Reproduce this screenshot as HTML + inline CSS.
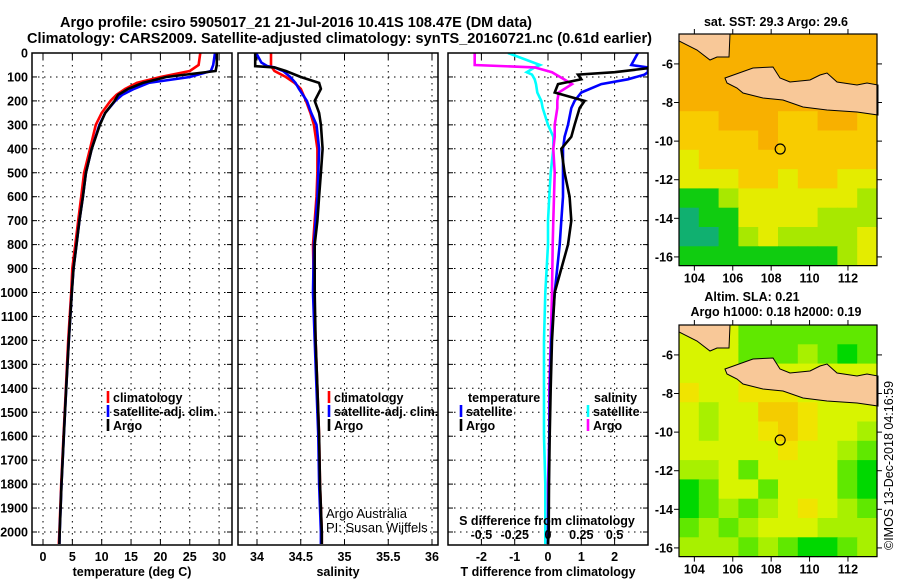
<!DOCTYPE html>
<html><head><meta charset="utf-8"><style>
html,body{margin:0;padding:0;background:#fff;}
svg{display:block;font-family:"Liberation Sans",sans-serif;}
.b{font-weight:bold;font-size:12.5px;}
</style></head><body>
<svg id="s" width="900" height="580" viewBox="0 0 900 580">
<text x="60" y="27" font-weight="bold" font-size="14.5" textLength="472">Argo profile: csiro 5905017_21 21-Jul-2016 10.41S 108.47E (DM data)</text>
<text x="27" y="43" font-weight="bold" font-size="14.5" textLength="625">Climatology: CARS2009. Satellite-adjusted climatology: synTS_20160721.nc (0.61d earlier)</text>
<g id="g"></g>
</svg>
<script>
// ---------- data ----------
const depthT = [0,50,75,100,125,150,175,200,250,300,400,500,600,700,800,900,1000,1200,1400,1600,1800,2000,2050];
const tempClim = [26.8,26.5,25,20,16,14,12.5,11.5,10,9,8,7,6.5,6,5.5,5,4.8,4.3,3.9,3.5,3.1,2.8,2.7];
const tempArgo = [29.6,29.6,29.4,21,17,14.5,12.8,12.2,10.6,9.7,8.3,7.3,6.8,6.2,5.7,5.2,4.9,4.4,3.95,3.55,3.15,2.85,2.8];
const tempSat  = [29.3,29.0,28.6,25,18,15.5,13.5,12.3,10.6,9.6,8.3,7.3,6.8,6.2,5.7,5.2,4.9,4.4,3.95,3.55,3.15,2.85,2.8];
const depthS = [0,40,55,60,75,100,125,150,200,250,300,400,500,600,700,800,1000,1200,1400,1600,1800,2000,2050];
const salClim = [34.16,34.16,34.16,34.17,34.2,34.33,34.43,34.5,34.56,34.61,34.65,34.69,34.69,34.68,34.66,34.64,34.65,34.67,34.69,34.71,34.72,34.74,34.74];
const salArgo = [33.98,33.98,33.98,34.2,34.33,34.5,34.71,34.73,34.66,34.71,34.73,34.75,34.73,34.71,34.69,34.66,34.66,34.67,34.69,34.71,34.72,34.74,34.74];
const salSat  = [33.99,34.05,34.12,34.2,34.3,34.38,34.44,34.48,34.57,34.62,34.68,34.71,34.70,34.69,34.67,34.65,34.64,34.66,34.68,34.70,34.71,34.73,34.73];
const depthD = [0,50,60,80,90,110,130,165,200,230,300,350,400,500,600,700,800,1000,1200,1400,1600,1800,2000,2050];
const dTArgo = [3.2,3.2,3.2,2.0,0.9,1.0,0.3,0.2,1.1,0.95,0.8,0.7,0.4,0.5,0.65,0.7,0.6,0.2,0.12,0.08,0.05,0.03,0.02,0.0];
const dTSat  = [2.7,2.5,3.0,3.0,2.9,2.4,1.6,1.0,0.8,0.7,0.6,0.5,0.45,0.45,0.45,0.4,0.35,0.2,0.1,0.06,0.04,0.02,0.0,0.0];
const dSArgo = [-0.55,-0.55,-0.1,0.03,0.06,0.12,0.18,0.08,0.07,0.07,0.05,0.05,0.04,0.05,0.045,0.04,0.035,0.03,0.02,0.01,0.01,0.0,0.0,0.0];
const dSSat  = [-0.3,-0.06,-0.1,-0.16,-0.12,-0.1,-0.09,-0.08,-0.05,-0.04,0.0,0.04,0.04,0.02,0.01,0.0,0.0,-0.02,-0.03,-0.03,-0.03,-0.02,-0.02,-0.02];
const depthTicks = [0,100,200,300,400,500,600,700,800,900,1000,1100,1200,1300,1400,1500,1600,1700,1800,1900,2000];
const tTicks = [0,5,10,15,20,25,30];
const sTicks = [34,34.5,35,35.5,36];
const sTickLabels = ["34","34.5","35","35.5","36"];
const dTTicks = [-2,-1,0,1,2];
const dSTicks = [-0.5,-0.25,0,0.25,0.5];
const dSTickLabels = ["-0.5","-0.25","0","0.25","0.5"];
const lonTicks = [104,106,108,110,112];
const latTicks = [-6,-8,-10,-12,-14,-16];
const sstGrid = [
[5,5,5,5,5,5,5,5,5,5],[5,5,5,5,5,5,5,5,5,5],[5,5,5,5,5,5,5,5,5,5],[5,5,5,5,5,5,5,5,5,5],
[4,4,5,5,5,4,4,5,5,4],[4,4,4,4,5,4,4,4,4,4],[3,4,4,4,4,4,4,4,4,4],[3,3,3,4,4,3,4,4,3,3],
[1,1,2,3,3,3,3,3,3,2],[0,1,1,3,3,3,3,2,2,2],[0,0,1,2,3,2,2,2,2,3],[1,1,1,1,1,1,1,1,2,3]];
const slaGrid = [
[3,3,3,1,1,1,1,1,1,1],[3,3,3,1,1,1,2,1,0,1],[3,3,3,3,3,3,3,3,3,3],[4,3,3,4,4,4,3,3,3,3],
[3,2,3,3,5,5,4,3,3,3],[3,2,3,3,4,5,4,3,3,2],[3,3,3,3,3,4,3,3,2,1],[2,2,3,1,3,3,3,3,1,0],
[0,1,3,3,1,3,3,3,1,0],[0,1,2,1,2,3,4,3,2,1],[1,2,1,2,3,3,3,2,2,2],[2,2,2,1,2,1,0,0,1,2]];
const profileLon = 108.47, profileLat = -10.41;

// ---------- scales ----------
const NS="http://www.w3.org/2000/svg";
const g=document.getElementById('g');
const TOP=53,BOT=545;
const yD=d=>TOP+d*0.2395;
const xT=v=>43+v*5.87;
const xS=v=>257+(v-34)*87.5;
const xDT=v=>548+v*33.3;
const xDS=v=>548+v*133.2;
const mapL=679,mapR=877,mapW=198;
const xLon=l=>679+(l-103.2)*19.2;
const yLat=(l,top)=>top+(-4.45-l)*19.3;
function el(t,a,p){const e=document.createElementNS(NS,t);for(const k in a)e.setAttribute(k,a[k]);(p||g).appendChild(e);return e;}
function txt(x,y,s,anchor,cls,p){const e=el('text',{x:x,y:y,'text-anchor':anchor||'middle','class':cls||'b'},p);e.textContent=s;return e;}

function panel(id,x0,x1){
  const cp=el('clipPath',{id:'c'+id});el('rect',{x:x0,y:TOP,width:x1-x0,height:BOT-TOP},cp);
  return cp;
}
function grid(x0,x1,xs,xf){
  depthTicks.forEach(d=>{const l=el('line',{x1:x0,x2:x1,y1:yD(d),y2:yD(d),stroke:'#000','stroke-width':1,'stroke-dasharray':'1.5,4.5'});
    
    el('line',{x1:x0,x2:x0+5,y1:yD(d),y2:yD(d),stroke:'#000'});el('line',{x1:x1-5,x2:x1,y1:yD(d),y2:yD(d),stroke:'#000'});});
  xs.forEach(v=>{const l=el('line',{x1:xf(v),x2:xf(v),y1:TOP,y2:BOT,stroke:'#000','stroke-width':1,'stroke-dasharray':'1.5,4.5'});
    
    el('line',{x1:xf(v),x2:xf(v),y1:BOT-6,y2:BOT,stroke:'#000'});el('line',{x1:xf(v),x2:xf(v),y1:TOP,y2:TOP+6,stroke:'#000'});});
}
function line(ds,vs,xf,col,id,name){
  const pts=ds.map((d,i)=>xf(vs[i]).toFixed(1)+','+yD(d).toFixed(1)).join(' ');
  const p=el('polyline',{points:pts,fill:'none',stroke:col,'stroke-width':2.6,'clip-path':'url(#c'+id+')'});
  
}
function frame(x0,x1,name){const r=el('rect',{x:x0,y:TOP,width:x1-x0,height:BOT-TOP,fill:'none',stroke:'#000','stroke-width':1.5});
  }
function legend(x,y,col,label){
  el('line',{x1:x,x2:x,y1:y-7,y2:y+5,stroke:col,'stroke-width':2.6});
  const t=txt(x+5,y+4,label,'start');
}

// depth labels
depthTicks.forEach(d=>{const t=txt(28,yD(d)+4.5,String(d),'end');});

// panel 1 temperature
panel(1,32,232);grid(32,232,tTicks,xT);
line(depthT,tempClim,xT,'#ff0000',1,'temp-climatology-line');
line(depthT,tempSat,xT,'#0000ff',1,'temp-satellite-line');
line(depthT,tempArgo,xT,'#000000',1,'temp-argo-line');
frame(32,232,'temperature-plot-area');
tTicks.forEach(v=>{const t=txt(xT(v),561,String(v));});
{const t=txt(132,576,'temperature (deg C)');}
legend(108,398,'#ff0000','climatology');legend(108,412,'#0000ff','satellite-adj. clim.');legend(108,426,'#000','Argo');

// panel 2 salinity
panel(2,238,438);grid(238,438,sTicks,xS);
line(depthS,salClim,xS,'#ff0000',2,'sal-climatology-line');
line(depthS,salSat,xS,'#0000ff',2,'sal-satellite-line');
line(depthS,salArgo,xS,'#000000',2,'sal-argo-line');
frame(238,438,'salinity-plot-area');
sTicks.forEach((v,i)=>{const t=txt(xS(v),561,sTickLabels[i]);});
{const t=txt(338,576,'salinity');}
legend(329,398,'#ff0000','climatology');legend(329,412,'#0000ff','satellite-adj. clim.');legend(329,426,'#000','Argo');
{const t=el('text',{x:326,y:518,'font-size':13});t.textContent='Argo Australia';
 const t2=el('text',{x:326,y:532,'font-size':13});t2.textContent='PI: Susan Wijffels';}

// panel 3 differences
panel(3,448,648);grid(448,648,dTTicks,xDT);
line(depthD,dSSat,xDS,'#00ffff',3,'sal-diff-satellite-line');
line(depthD,dSArgo,xDS,'#ff00ff',3,'sal-diff-argo-line');
line(depthD,dTSat,xDT,'#0000ff',3,'temp-diff-satellite-line');
line(depthD,dTArgo,xDT,'#000000',3,'temp-diff-argo-line');
frame(448,648,'difference-plot-area');
dTTicks.forEach(v=>{const t=txt(xDT(v),561,String(v));});
dSTicks.forEach((v,i)=>{const t=txt(xDS(v),539,dSTickLabels[i]);});
{const t=txt(548,576,'T difference from climatology');}
{const t=txt(547,525,'S difference from climatology');}
{const t=txt(468,402,'temperature','start');}
{const t=txt(594,402,'salinity','start');}
legend(461,412,'#0000ff','satellite');legend(461,426,'#000','Argo');
legend(588,412,'#00ffff','satellite');legend(588,426,'#ff00ff','Argo');

// maps
const sstCols=['#10b070','#10cc10','#a8e800','#e4ec00','#f8cc00','#f8b000'];
const slaCols=['#00d800','#60e800','#a8f000','#d8f400','#f0e400','#f4cc00'];
function map(top,gridV,cols,name){
  const mg=el('g',{});
  const cw=mapW/10,ch=(yLat(-16.45,top)-top)/12;
  gridV.forEach((row,r)=>row.forEach((v,c)=>{
    const cell=el('rect',{x:(mapL+c*cw).toFixed(2),y:(top+r*ch).toFixed(2),width:(cw+0.6).toFixed(2),height:(ch+0.6).toFixed(2),fill:cols[v]},mg);
    
  }));
  const o=top-34;
  const sum=[[679,34],[730,34],[729,57],[717,57],[710,60],[697,50],[679,41]];
  const java=[[725,78],[753,68],[773,67],[780,78],[790,82],[810,80],[820,75],[827,73],[837,82],[857,85],[867,83],[878,85],[878,115],[857,112],[827,110],[803,107],[783,100],[763,98],[743,93],[737,88],[727,83]];
  [sum,java].forEach((poly,i)=>{const p=el('polygon',{points:poly.map(q=>q[0]+','+(q[1]+o)).join(' '),fill:'#f8c898',stroke:'#000','stroke-width':1},mg);
    });
  const c=el('circle',{cx:xLon(profileLon),cy:yLat(profileLat,top),r:5,fill:'none',stroke:'#000','stroke-width':1.2});
  
  const bot=yLat(-16.45,top);
  const r=el('rect',{x:mapL,y:top,width:mapW,height:bot-top,fill:'none',stroke:'#000','stroke-width':1.2});
  lonTicks.forEach(l=>{el('line',{x1:xLon(l),x2:xLon(l),y1:bot,y2:bot+5,stroke:'#000'});el('line',{x1:xLon(l),x2:xLon(l),y1:top-5,y2:top,stroke:'#000'});
    const t=txt(xLon(l),bot+17,String(l));});
  latTicks.forEach(l=>{el('line',{x1:mapL-5,x2:mapL,y1:yLat(l,top),y2:yLat(l,top),stroke:'#000'});el('line',{x1:mapR,x2:mapR+5,y1:yLat(l,top),y2:yLat(l,top),stroke:'#000'});
    const t=txt(673,yLat(l,top)+4.5,String(l),'end');});
  return bot;
}
map(34,sstGrid,sstCols,'sst-map');
map(325,slaGrid,slaCols,'sla-map');
{const t=txt(776,26,'sat. SST: 29.3 Argo: 29.6');}
{const t=txt(752,301,'Altim. SLA: 0.21');}
{const t=txt(776,316,'Argo h1000: 0.18 h2000: 0.19');}
{const t=el('text',{x:0,y:0,'font-size':12.5,transform:'translate(893,550) rotate(-90)'});t.textContent='©IMOS 13-Dec-2018 04:16:59';
 }
</script>
</body></html>
